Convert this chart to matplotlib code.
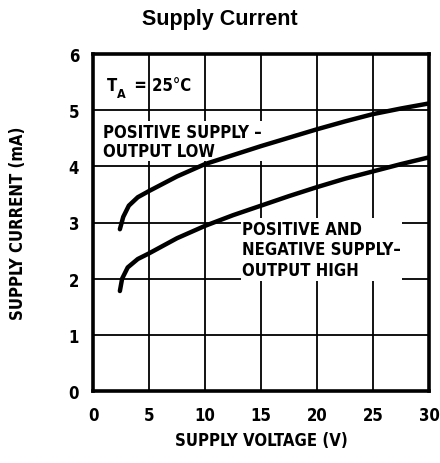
import matplotlib
matplotlib.use("Agg")
import matplotlib.pyplot as plt

COND = 'DejaVu Sans'
STRETCH = 'condensed'

# Data
v_low = [2.4, 2.7, 3.2, 4.0, 5.0, 7.5, 10, 12.5, 15, 17.5, 20, 22.5, 25, 27.5, 30]
i_low = [2.88, 3.10, 3.30, 3.45, 3.56, 3.82, 4.04, 4.20, 4.36, 4.51, 4.66, 4.80, 4.93, 5.03, 5.12]
v_high = [2.4, 2.6, 3.1, 4.0, 5.0, 7.5, 10, 12.5, 15, 17.5, 20, 22.5, 25, 27.5, 30]
i_high = [1.78, 2.00, 2.20, 2.35, 2.45, 2.72, 2.94, 3.13, 3.30, 3.47, 3.63, 3.78, 3.91, 4.04, 4.16]
x_ticks = [0, 5, 10, 15, 20, 25, 30]
y_ticks = [0, 1, 2, 3, 4, 5, 6]

fig = plt.figure(figsize=(4.4, 4.64), dpi=100)
ax = fig.add_axes([93/440, 1-392/464, 336/440, 337/464])

ax.plot(v_low, i_low, color='black', lw=3.2, solid_capstyle='round', zorder=4)
ax.plot(v_high, i_high, color='black', lw=3.2, solid_capstyle='round', zorder=4)

ax.set_xlim(0, 30)
ax.set_ylim(0, 6)
ax.set_xticks(x_ticks)
ax.set_yticks(y_ticks)
ax.grid(True, color='black', lw=1.3, zorder=1)
ax.set_axisbelow(True)
ax.tick_params(axis='y', length=0, pad=10)
ax.tick_params(axis='x', length=0, pad=11)
for s in ax.spines.values():
    s.set_linewidth(2.6)
for lab in ax.get_xticklabels() + ax.get_yticklabels():
    lab.set_fontfamily(COND)
    lab.set_fontstretch(STRETCH)
    lab.set_fontweight('bold')
    lab.set_fontsize(12)

ax.set_xlabel('SUPPLY VOLTAGE (V)', fontfamily=COND, fontstretch=STRETCH, fontweight='bold',
              fontsize=12, labelpad=5)
ax.set_ylabel('SUPPLY CURRENT (mA)', fontfamily=COND, fontstretch=STRETCH, fontweight='bold',
              fontsize=12, labelpad=30)

fig.text(0.5, 1-20/464, 'Supply Current', ha='center', va='center',
         fontfamily='Liberation Sans', fontweight='bold', fontsize=15.5)

tkw = dict(fontfamily=COND, fontstretch=STRETCH, fontweight='bold', color='black')
t1 = ax.text(1.2, 5.36, 'T', va='baseline', ha='left', fontsize=12, zorder=3, **tkw)
ax.annotate('A', xy=(1.0, 0.0), xycoords=t1, xytext=(0.5, -2.5), textcoords='offset points',
            va='baseline', ha='left', fontsize=9, zorder=3, **tkw)
ax.annotate(' = 25°C', xy=(1.0, 0.0), xycoords=t1, xytext=(9, 0), textcoords='offset points',
            va='bottom', ha='left', fontsize=12, zorder=3, **tkw)
ax.text(0.9, 4.78, 'POSITIVE SUPPLY –\nOUTPUT LOW', va='top', ha='left', linespacing=1.1,
        fontsize=12, bbox=dict(facecolor='white', edgecolor='none', pad=1), zorder=3, **tkw)
ax.text(13.3, 3.05, 'POSITIVE AND\nNEGATIVE SUPPLY–\nOUTPUT HIGH', va='top', ha='left', linespacing=1.2,
        fontsize=12, bbox=dict(facecolor='white', edgecolor='none', pad=1), zorder=3, **tkw)

fig.savefig('out.png', dpi=100)
